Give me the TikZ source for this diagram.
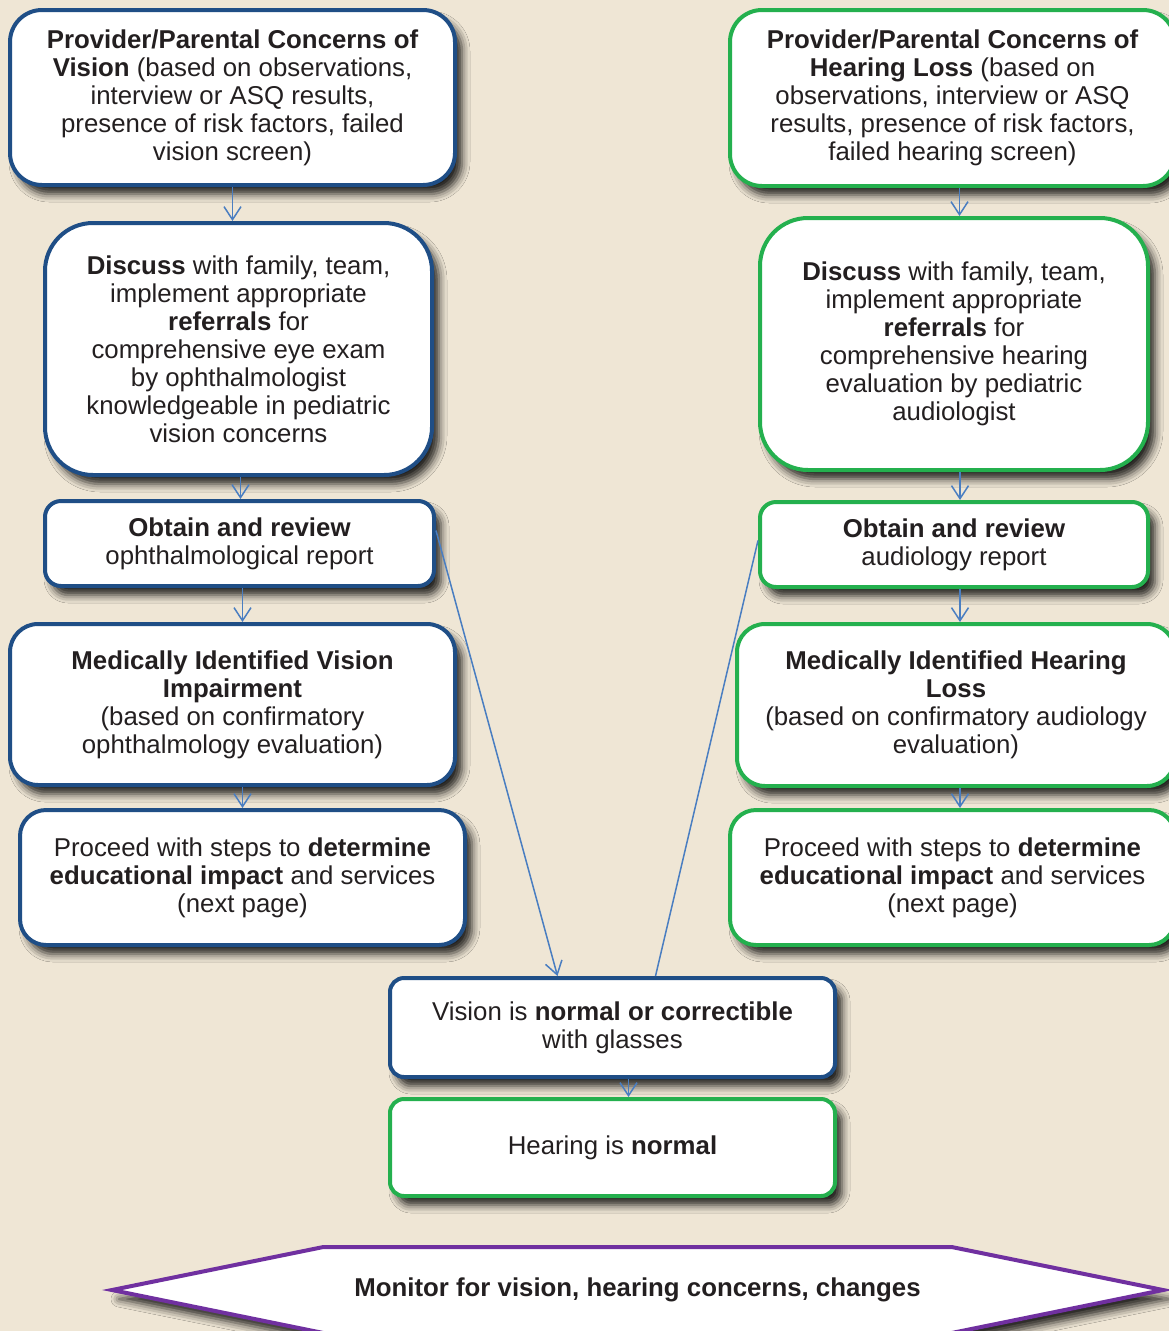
\documentclass[tikz,border=0pt]{standalone}
\usepackage{fontspec}
\setmainfont{Liberation Sans}
\usetikzlibrary{arrows.meta, calc, shapes.symbols, shadows.blur}
\definecolor{bgBeige}{RGB}{239, 230, 213}
\definecolor{visBlue}{RGB}{31, 78, 134}
\definecolor{hearGreen}{RGB}{36, 176, 78}
\definecolor{monPurple}{RGB}{112, 48, 160}
\definecolor{arrBlue}{RGB}{74, 126, 193}
\definecolor{inkText}{RGB}{35, 31, 32}
\tikzset{
  softshadow/.style={blur shadow={shadow xshift=7pt, shadow yshift=-9pt, shadow blur radius=8pt, shadow opacity=85}},
  card/.style={rectangle, draw=#1, line width=4pt, fill=white, align=center, inner sep=0pt,
    text=inkText, font=\fontsize{25.8}{28}\selectfont, softshadow},
  card/.default=visBlue,
  vcard/.style={card=visBlue},
  hcard/.style={card=hearGreen},
  arr/.style={-{Straight Barb[length=13pt, width=17pt, line width=1.5pt]}, line width=1.5pt, arrBlue},
  link/.style={line width=1.5pt, arrBlue},
}
\begin{document}
\begin{tikzpicture}[x=1pt, y=-1pt]
  \fill[bgBeige] (0,0) rectangle (1169,1331);
  \useasboundingbox (0,0) rectangle (1169,1331);

  % vision column
  \node[vcard, rounded corners=32pt, minimum width=445pt, minimum height=175pt] (b1) at (232.5, 97.5)
    {\textbf{Provider/Parental Concerns of}\\ \textbf{Vision} (based on observations,\\ interview or ASQ results,\\ presence of risk factors, failed\\ vision screen)};
  \node[vcard, rounded corners=48pt, minimum width=387pt, minimum height=252pt] (b2) at (238.5, 349)
    {\textbf{Discuss} with family, team,\\ implement appropriate\\ \textbf{referrals} for\\ comprehensive eye exam\\ by ophthalmologist\\ knowledgeable in pediatric\\ vision concerns};
  \node[vcard, rounded corners=16pt, minimum width=389pt, minimum height=85pt] (b3) at (239.5, 543.5)
    {\textbf{Obtain and review}\\ ophthalmological report};
  \node[vcard, rounded corners=28pt, minimum width=445pt, minimum height=161pt] (b4) at (232.5, 704.5)
    {\textbf{Medically Identified Vision}\\ \textbf{Impairment}\\ (based on confirmatory\\ ophthalmology evaluation)};
  \node[vcard, rounded corners=26pt, minimum width=445pt, minimum height=135pt] (b5) at (242.5, 877.5)
    {Proceed with steps to \textbf{determine}\\ \textbf{educational impact} and services\\ (next page)};

  % hearing column
  \node[hcard, rounded corners=32pt, minimum width=445pt, minimum height=176pt] (g1) at (952.5, 98)
    {\textbf{Provider/Parental Concerns of}\\ \textbf{Hearing Loss} (based on\\ observations, interview or ASQ\\ results, presence of risk factors,\\ failed hearing screen)};
  \node[hcard, rounded corners=48pt, minimum width=388pt, minimum height=252pt] (g2) at (954, 344)
    {\textbf{Discuss} with family, team,\\ implement appropriate\\ \textbf{referrals} for\\ comprehensive hearing\\ evaluation by pediatric\\ audiologist};
  \node[hcard, rounded corners=16pt, minimum width=388pt, minimum height=85pt] (g3) at (954, 544.5)
    {\textbf{Obtain and review}\\ audiology report};
  \node[hcard, rounded corners=28pt, minimum width=438pt, minimum height=162pt] (g4) at (956, 705)
    {\textbf{Medically Identified Hearing}\\ \textbf{Loss}\\ (based on confirmatory audiology\\ evaluation)};
  \node[hcard, rounded corners=26pt, minimum width=445pt, minimum height=135pt] (g5) at (952.5, 877.5)
    {Proceed with steps to \textbf{determine}\\ \textbf{educational impact} and services\\ (next page)};

  % normal results
  \node[vcard, rounded corners=14pt, minimum width=445pt, minimum height=99pt] (c1) at (612.5, 1027.5)
    {Vision is \textbf{normal or correctible}\\ with glasses};
  \node[hcard, rounded corners=14pt, minimum width=445pt, minimum height=97pt] (c2) at (612.5, 1147.5)
    {Hearing is \textbf{normal}};

  \node[signal, signal to=west and east, signal pointer angle=23, draw=monPurple, line width=4pt,
    fill=white, text=inkText, font=\fontsize{25.8}{28}\selectfont, minimum width=1051pt, minimum height=86pt,
    inner sep=0pt, softshadow]
    (mon) at (637.5, 1290) {\textbf{Monitor for vision, hearing concerns, changes}};

  \foreach \a/\b/\dx in {b1/b2/0, b2/b3/2, b3/b4/3, b4/b5/10, g1/g2/7, g2/g3/6, g3/g4/6, g4/g5/4} {
    \draw[arr] ([xshift=\dx pt]\a.south) -- ([xshift=\dx pt]\a.south |- \b.north);
  }
  \coordinate (vl) at ([xshift=-55pt]c1.north);
  \coordinate (vr) at ([xshift=43pt]c1.north);
  \draw[arr] ([yshift=13pt]b3.east) -- (vl);
  \draw[link] ([yshift=4pt]g3.west) -- (vr);
  \draw[arr] ([xshift=16pt]c1.south) -- ([xshift=16pt]c2.north);
\end{tikzpicture}
\end{document}
